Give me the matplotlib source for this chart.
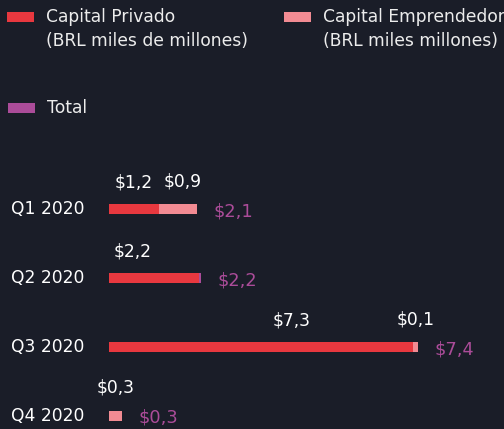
import matplotlib
matplotlib.use("Agg")
import matplotlib.pyplot as plt
from matplotlib.patches import Rectangle
from matplotlib.transforms import offset_copy

# Data (BRL miles de millones)
quarters = ["Q1 2020", "Q2 2020", "Q3 2020", "Q4 2020"]
capital_privado = [1.2, 2.2, 7.3, 0.0]
capital_emprendedor = [0.9, 0.0, 0.1, 0.3]
totals = [2.1, 2.2, 7.4, 0.3]
privado_labels = ["$1,2", "$2,2", "$7,3", None]
emprendedor_labels = ["$0,9", None, "$0,1", "$0,3"]
total_labels = ["$2,1", "$2,2", "$7,4", "$0,3"]

BG = "#1a1d28"
RED = "#e8383f"
PINK = "#f28b93"
PURPLE = "#ab4c99"
TEXT = "#ececec"
FONT = "DejaVu Sans"
FS = 12.3

W, H = 504, 429
fig = plt.figure(figsize=(W / 100, H / 100), dpi=100, facecolor=BG)

# Bar axes: x=0 sits at pixel 109, bars centred at rows spaced ~69 px apart
left_px, top_px = 109, 150
ax = fig.add_axes([left_px / W, 0, 1 - left_px / W, 1 - top_px / H])
ax.set_facecolor(BG)
px_per_unit = 41.7
ax.set_xlim(0, (W - left_px) / px_per_unit)
row_px = 68.8
first_center = 209.5
ax.set_ylim((H - first_center) / row_px, (top_px - first_center) / row_px)
ax.axis("off")

ys = list(range(len(quarters)))
bar_h = 10 / row_px
ax.barh(ys, capital_privado, height=bar_h, color=RED, zorder=2)
ax.barh(ys, capital_emprendedor, left=capital_privado, height=bar_h,
        color=PINK, zorder=2)

# Thin total marker where the bar ends on a single series
for y, p, e, t in zip(ys, capital_privado, capital_emprendedor, totals):
    if e == 0 and p > 0:
        ax.barh(y, 0.045, left=t - 0.045, height=bar_h, color=PURPLE, zorder=3)

# Segment value labels above the bars (pixel nudges keep them apart)
privado_nudge = [0, -22, 30, 0]
emprendedor_nudge = [5, 0, 0, 0]
for y, p, e, lp, le, np_, ne in zip(ys, capital_privado, capital_emprendedor,
                                    privado_labels, emprendedor_labels,
                                    privado_nudge, emprendedor_nudge):
    if lp:
        tr = offset_copy(ax.transData, fig=fig, x=np_, y=27, units="dots")
        ax.text(p / 2, y, lp, transform=tr, ha="center", va="center",
                color="white", fontsize=FS, family=FONT)
    if le:
        tr = offset_copy(ax.transData, fig=fig, x=ne, y=28, units="dots")
        ax.text(p + e / 2, y, le, transform=tr, ha="center", va="center",
                color="white", fontsize=FS, family=FONT)

# Totals to the right of each bar
for y, t, lt in zip(ys, totals, total_labels):
    tr = offset_copy(ax.transData, fig=fig, x=17, y=-2, units="dots")
    ax.text(t, y, lt, transform=tr, ha="left", va="center",
            color=PURPLE, fontsize=FS + 0.5, family=FONT)

# Overlay in pixel coordinates for category labels and legend
ov = fig.add_axes([0, 0, 1, 1], facecolor="none")
ov.set_xlim(0, W)
ov.set_ylim(H, 0)
ov.axis("off")

for i, q in enumerate(quarters):
    ov.text(11, first_center + i * row_px, q, ha="left", va="center",
            color="white", fontsize=FS, family=FONT)

legend_items = [
    (7, 17, RED, ["Capital Privado", "(BRL miles de millones)"]),
    (284, 17, PINK, ["Capital Emprendedor", "(BRL miles millones)"]),
    (8, 108, PURPLE, ["Total"]),
]
for x, y, col, lines in legend_items:
    ov.add_patch(Rectangle((x, y - 5), 27, 10, color=col, lw=0))
    for j, line in enumerate(lines):
        ov.text(x + 39, y + j * 24, line, ha="left", va="center",
                color=TEXT, fontsize=FS, family=FONT)

fig.savefig("out.png", dpi=100, facecolor=BG)
